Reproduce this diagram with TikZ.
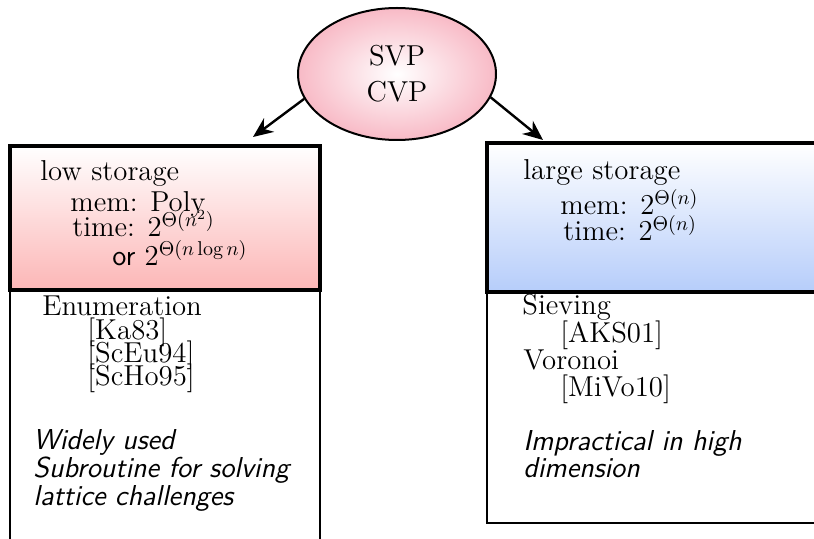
\documentclass[tikz,border=0pt]{standalone}
\usetikzlibrary{shapes.geometric,arrows.meta}
\definecolor{ellpink}{RGB}{248,186,198}
\definecolor{boxpink}{RGB}{252,182,182}
\definecolor{boxblue}{RGB}{182,205,250}
\begin{document}
\begin{tikzpicture}[x=0.5pt,y=-0.5pt,
  txt/.style={anchor=base west,inner sep=0pt,font=\Large},
  stxt/.style={anchor=base west,inner sep=0pt,font=\Large\sffamily\itshape},
  arr/.style={line width=1.2pt,-{Stealth[length=10pt,width=8.5pt]}},
  headbox/.style={line width=1.8pt},
  bodybox/.style={line width=1.1pt}]
\useasboundingbox (0,0) rectangle (814,539);
% left box
\shade[top color=white,bottom color=boxpink] (10,146) rectangle (320,290);
\draw[bodybox] (10,545) -- (10,290) -- (320,290) -- (320,545);
\draw[headbox] (10,146) rectangle (320,290);
% right box
\shade[top color=white,bottom color=boxblue] (487,143) rectangle (820,292);
\draw[bodybox] (820,292) -- (487,292) -- (487,523) -- (820,523);
\draw[headbox] (820,143) -- (487,143) -- (487,292) -- (820,292);
% root
\node[ellipse,draw,line width=1pt,minimum width=99pt,minimum height=66pt,inner sep=0pt,
  shading=radial,inner color=white,outer color=ellpink,align=center,font=\Large] (root) at (397,74) {SVP\\CVP};
\coordinate (lt) at (253,137);
\coordinate (rt) at (543,140);
\draw[arr] (root.195) -- (lt);
\draw[arr] (root.-14) -- (rt);
% left texts
\node[txt] (low) at (40,181) {low storage};
\node[txt] (lmem) at (70,212) {mem: Poly};
\node[txt] (ltime) at (72,237) {time: $2^{\Theta(n^2)}$};
\node[txt] (lor) at (112,266) {\textsf{or} $2^{\Theta(n\log n)}$};
\node[txt] (enum) at (42,316) {Enumeration};
\node[txt] (ka) at (87,340) {[Ka83]};
\node[txt] (sceu) at (87,363) {[ScEu94]};
\node[txt] (scho) at (87,386) {[ScHo95]};
\node[stxt] (w1) at (33,450) {Widely used};
\node[stxt] (w2) at (33,478) {Subroutine for solving};
\node[stxt] (w3) at (33,506) {lattice challenges};
% right texts
\node[txt] (large) at (523,180) {large storage};
\node[txt] (rmem) at (560,215) {mem: $2^{\Theta(n)}$};
\node[txt] (rtime) at (563,241) {time: $2^{\Theta(n)}$};
\node[txt] (siev) at (522,315) {Sieving};
\node[txt] (aks) at (560,343) {[AKS01]};
\node[txt] (vor) at (523,370) {Voronoi};
\node[txt] (mivo) at (560,397) {[MiVo10]};
\node[stxt] (i1) at (523,451) {Impractical in high};
\node[stxt] (i2) at (523,478) {dimension};
\end{tikzpicture}
\end{document}
